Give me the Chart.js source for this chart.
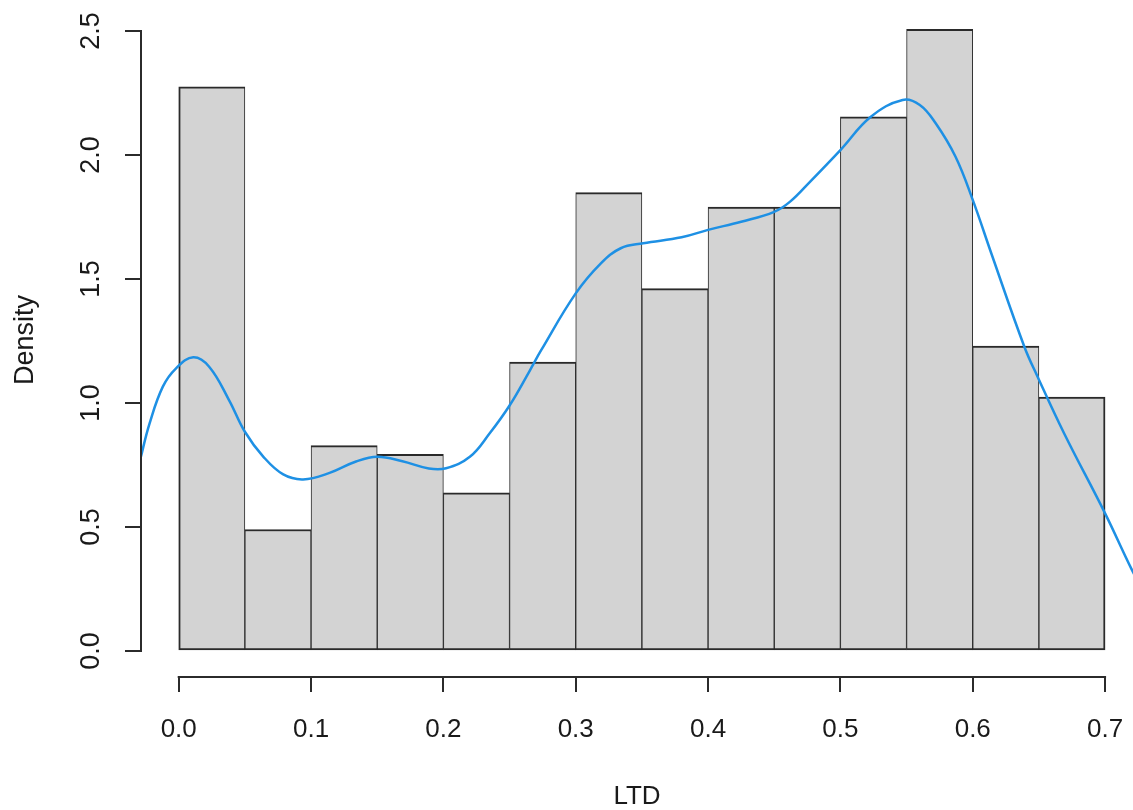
<!DOCTYPE html>
<html>
<head>
<meta charset="utf-8">
<title>LTD – histogram with density</title>
<script src="https://cdn.jsdelivr.net/npm/chart.js@4.4.1/dist/chart.umd.min.js"></script>
<style>
  html, body { margin: 0; padding: 0; background: #ffffff; overflow: hidden; }
  #wrap { position: relative; width: 1133px; height: 810px; }
  #hist { display: block; }
</style>
</head>
<body>
<div id="wrap"><canvas id="hist" width="1133" height="810"></canvas></div>
<script>
// Histogram of LTD, bin width 0.05, on the density scale
const binEdges = [0.00, 0.05, 0.10, 0.15, 0.20, 0.25, 0.30, 0.35, 0.40, 0.45, 0.50, 0.55, 0.60, 0.65, 0.70];
const binDensity = [2.275, 0.490, 0.828, 0.793, 0.638, 1.165, 1.848, 1.461, 1.790, 1.790, 2.154, 2.507, 1.230, 1.024];

// Kernel density estimate of LTD
const kdeX = [-0.035, -0.0287, -0.022, -0.012, -0.002, 0.011, 0.023, 0.038, 0.050, 0.064,
              0.079, 0.094, 0.114, 0.134, 0.150, 0.169, 0.189, 0.202, 0.220, 0.235,
              0.250, 0.265, 0.274, 0.300, 0.319, 0.334, 0.351, 0.380, 0.400, 0.425,
              0.450, 0.462, 0.477, 0.500, 0.523, 0.547, 0.560, 0.572, 0.587, 0.600,
              0.614, 0.639, 0.649, 0.669, 0.700, 0.720, 0.730];
const kdeY = [0.640, 0.780, 0.918, 1.066, 1.140, 1.184, 1.146, 1.012, 0.884, 0.783,
              0.712, 0.692, 0.718, 0.764, 0.783, 0.765, 0.736, 0.737, 0.783, 0.878,
              0.990, 1.128, 1.214, 1.442, 1.563, 1.624, 1.644, 1.668, 1.698, 1.731,
              1.771, 1.812, 1.892, 2.020, 2.154, 2.222, 2.202, 2.128, 1.993, 1.819,
              1.604, 1.227, 1.106, 0.878, 0.555, 0.330, 0.230];

// Axis ticks
const xTickValues = [0.0, 0.1, 0.2, 0.3, 0.4, 0.5, 0.6, 0.7];
const xTickLabels = ['0.0', '0.1', '0.2', '0.3', '0.4', '0.5', '0.6', '0.7'];
const yTickValues = [0.0, 0.5, 1.0, 1.5, 2.0, 2.5];
const yTickLabels = ['0.0', '0.5', '1.0', '1.5', '2.0', '2.5'];

const FONT_FAMILY = '"Liberation Sans", Arial, "DejaVu Sans", sans-serif';
const INK = '#1a1a1a';
const AXIS_INK = '#2b2b2b';

// Axis lines that span only the tick range, as in base graphics plots
const axisLines = {
  id: 'axisLines',
  afterDraw(chart) {
    const { ctx, chartArea, scales } = chart;
    const xs = scales.x, ys = scales.y;
    ctx.save();
    ctx.strokeStyle = AXIS_INK;
    ctx.lineWidth = 2;
    ctx.lineCap = 'butt';
    ctx.beginPath();
    const ax = chartArea.left;
    ctx.moveTo(ax, ys.getPixelForValue(yTickValues[0]) + 1);
    ctx.lineTo(ax, ys.getPixelForValue(yTickValues[yTickValues.length - 1]) - 1);
    const ay = chartArea.bottom + 1;
    ctx.moveTo(xs.getPixelForValue(xTickValues[0]) - 1, ay);
    ctx.lineTo(xs.getPixelForValue(xTickValues[xTickValues.length - 1]) + 1, ay);
    ctx.stroke();
    ctx.restore();
  }
};

const barData = binDensity.map((d, i) => ({ x: (binEdges[i] + binEdges[i + 1]) / 2, y: d }));
const kdeData = kdeX.map((x, i) => ({ x: x, y: kdeY[i] }));
const lastBin = binDensity.length - 1;

new Chart(document.getElementById('hist'), {
  type: 'bar',
  data: {
    datasets: [
      {
        type: 'line',
        label: 'density',
        data: kdeData,
        order: 1,
        borderColor: '#1E90E4',
        borderWidth: 2.5,
        pointRadius: 0,
        fill: false,
        tension: 0.4
      },
      {
        type: 'bar',
        label: 'LTD',
        data: barData,
        order: 2,
        backgroundColor: '#d3d3d3',
        borderColor: '#2a2a2a',
        borderWidth: (c) => ({
          top: 2,
          bottom: 2,
          left: c.dataIndex === 0 ? 2 : 1,
          right: c.dataIndex === lastBin ? 2 : 1
        }),
        borderSkipped: false,
        barPercentage: 1.0,
        categoryPercentage: 1.0
      }
    ]
  },
  options: {
    responsive: false,
    maintainAspectRatio: false,
    devicePixelRatio: 1,
    animation: false,
    events: [],
    layout: { padding: { top: 4, right: 0, bottom: 0, left: 0 } },
    plugins: {
      legend: { display: false },
      tooltip: { enabled: false },
      title: { display: false }
    },
    scales: {
      x: {
        type: 'linear',
        offset: false,
        min: -0.0285,
        max: 0.7211,
        afterBuildTicks: (s) => { s.ticks = xTickValues.map(v => ({ value: v })); },
        afterFit: (s) => {
          s.height = 134;
          s.paddingLeft = 0;
          s.paddingRight = 0;
        },
        grid: {
          offset: false,
          drawOnChartArea: false,
          drawTicks: true,
          tickLength: 16,
          color: AXIS_INK,
          lineWidth: 2
        },
        border: { display: false },
        ticks: {
          autoSkip: false,
          maxRotation: 0,
          minRotation: 0,
          padding: 22,
          color: INK,
          font: { family: FONT_FAMILY, size: 26 },
          callback: (v, i) => xTickLabels[i]
        },
        title: {
          display: true,
          text: 'LTD',
          color: INK,
          font: { family: FONT_FAMILY, size: 26, lineHeight: 1 },
          padding: { top: 0, bottom: 0 }
        }
      },
      y: {
        type: 'linear',
        min: -0.1008,
        max: 2.6089,
        afterBuildTicks: (s) => { s.ticks = yTickValues.map(v => ({ value: v })); },
        afterFit: (s) => {
          s.width = 141;
          s.paddingTop = 0;
          s.paddingBottom = 0;
        },
        grid: {
          drawOnChartArea: false,
          drawTicks: true,
          tickLength: 16,
          color: AXIS_INK,
          lineWidth: 2
        },
        border: { display: false },
        ticks: {
          minRotation: 90,
          maxRotation: 90,
          crossAlign: 'center',
          padding: 14.5,
          color: INK,
          font: { family: FONT_FAMILY, size: 27 },
          callback: (v, i) => yTickLabels[i]
        },
        title: {
          display: true,
          text: 'Density',
          color: INK,
          font: { family: FONT_FAMILY, size: 27, lineHeight: 1 },
          padding: { top: 12.5, bottom: 0 }
        }
      }
    }
  },
  plugins: [axisLines]
});
</script>
</body>
</html>
